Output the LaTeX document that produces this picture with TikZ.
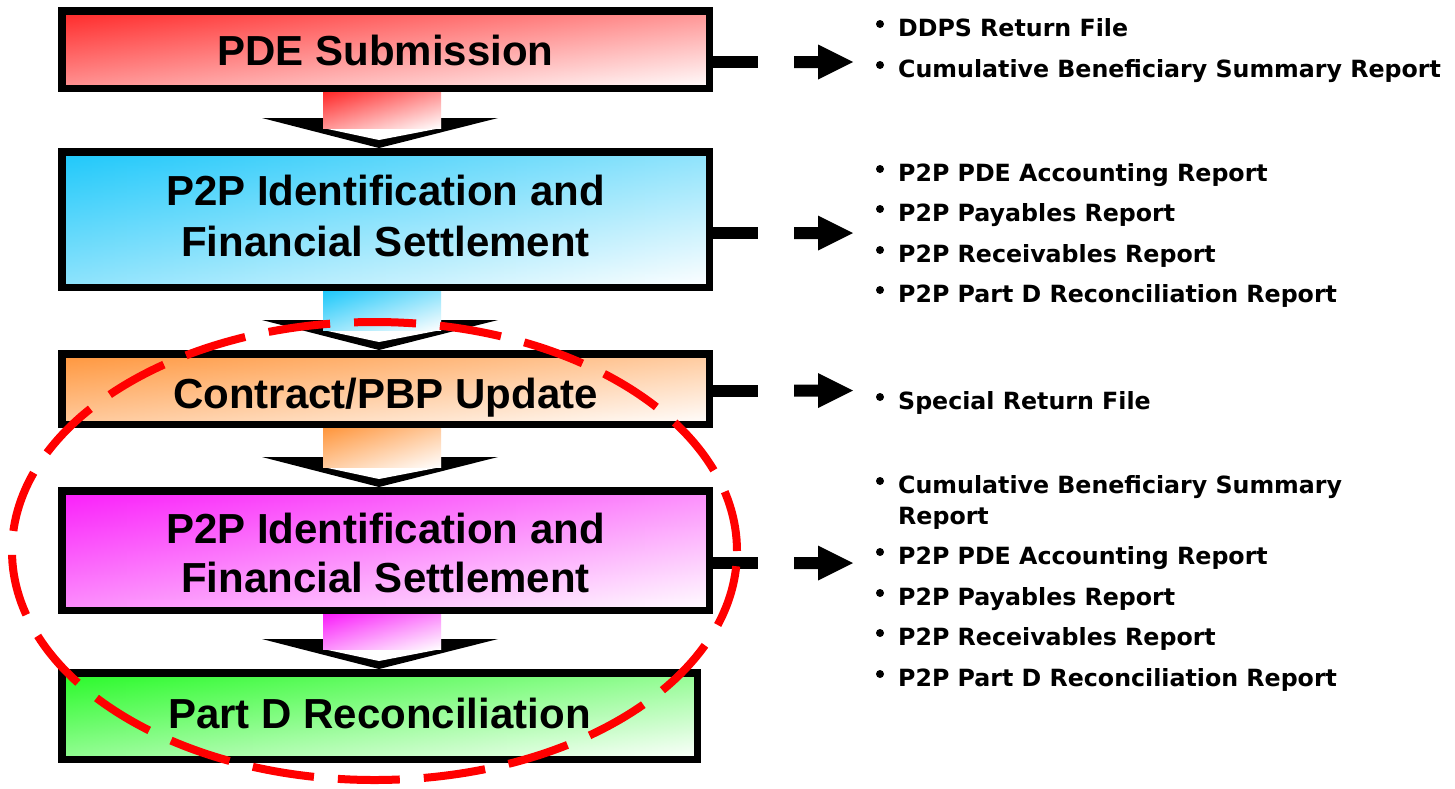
\documentclass[tikz,border=0pt]{standalone}
\usepackage{fontspec}
\setmainfont{Liberation Sans}
\newfontfamily\listfont{DejaVu Sans}
\usetikzlibrary{calc}
\definecolor{cR}{RGB}{255,40,40}
\definecolor{cB}{RGB}{30,200,250}
\definecolor{cO}{RGB}{255,150,60}
\definecolor{cM}{RGB}{250,30,250}
\definecolor{cG}{RGB}{40,250,40}
\tikzset{
  x=1pt, y=1pt,
  grad/.style={path picture={
      \shade[left color=#1, right color=white]
        (path picture bounding box.south west) rectangle (path picture bounding box.north east);
      \shade[top color=#1, bottom color=white, opacity=0.5]
        (path picture bounding box.south west) rectangle (path picture bounding box.north east);
  }},
  stagebox/.style={draw=black, line width=7.5pt, inner sep=0pt, grad=#1},
  stagetext/.style={anchor=base, inner sep=0pt, font=\fontsize{42}{50}\selectfont\bfseries},
  itemtext/.style={anchor=base west, inner sep=0pt, font=\listfont\fontsize{23.7}{31}\selectfont\bfseries},
  feed/.style={line width=12pt},
  ring/.style={draw=red, line width=8pt, dash pattern=on 62pt off 24pt, dash phase=1pt},
}
\newcommand{\chev}[3]{%
  \fill[black] let \p2=(#2.north) in
    (262pt,\y2+30pt) -- (498pt,\y2+30pt) -- (379pt,\y2) -- cycle;
  \fill[white] let \p2=(#2.north) in
    (323pt,\y2+20pt) -- (441pt,\y2+20pt) -- (379pt,\y2+8pt) -- cycle;
  \path[grad=#3] let \p1=(#1.south), \p2=(#2.north) in (323pt,\y1) rectangle (441pt,\y2+20pt);
}
\newcommand{\blockarrow}[1]{%
  \fill ([xshift=36pt]#1) ++(0,6) -- ++(24,0) -- ++(0,11.5) -- ++(35,-17.5)
    -- ++(-35,-17.5) -- ++(0,11.5) -- ++(-24,0) -- cycle;
}
\begin{document}
\begin{tikzpicture}
\useasboundingbox (0,0) rectangle (1455,-788);
\fill[white] (0,0) rectangle (1455,-788);

% stage boxes
\node[stagebox=cR, minimum width=647.5pt, minimum height=77.5pt] (b1) at (385.5,-49.5) {};
\node[stagebox=cB, minimum width=647.5pt, minimum height=135.5pt] (b2) at (385.5,-219.5) {};
\node[stagebox=cO, minimum width=647.5pt, minimum height=70.5pt] (b3) at (385.5,-389) {};
\node[stagebox=cM, minimum width=647.5pt, minimum height=119.5pt] (b4) at (385.5,-550.5) {};
\node[stagebox=cG, minimum width=635.5pt, minimum height=86.5pt] (b5) at (379.5,-716) {};

\node[stagetext] (t1) at (385.5,-65) {PDE Submission};
\node[stagetext] (t2a) at (385.5,-205) {P2P Identification and};
\node[stagetext] (t2b) at (385.5,-256) {Financial Settlement};
\node[stagetext] (t3) at (385.5,-408) {Contract/PBP Update};
\node[stagetext] (t4a) at (385.5,-543) {P2P Identification and};
\node[stagetext] (t4b) at (385.5,-592) {Financial Settlement};
\node[stagetext] (t5) at (379.5,-728) {Part D Reconciliation};

% down arrows
\chev{b1}{b2}{cR}
\chev{b2}{b3}{cB}
\chev{b3}{b4}{cO}
\chev{b4}{b5}{cM}

% right arrows
\coordinate (a1) at (758,-62);
\coordinate (a2) at (758,-233);
\coordinate (a3) at (758,-390.5);
\coordinate (a4) at (758,-563);
\foreach \b/\a in {b1/a1,b2/a2,b3/a3,b4/a4}{
  \draw[feed] (\b.east |- \a) -- (\a);
  \blockarrow{\a}
}

% output lists
\foreach \yb in {36.5,77.5,181.5,221.5,262.5,302.5,409.5,493.5,564.5,605.5,645.5,686.5}{
  \fill (880,-\yb+12.5) circle (4);
}
\node[itemtext] (l1a) at (898,-36.5) {DDPS Return File};
\node[itemtext] (l1b) at (898,-77.5) {Cumulative Beneficiary Summary Report};
\node[itemtext] (l2a) at (898,-181.5) {P2P PDE Accounting Report};
\node[itemtext] (l2b) at (898,-221.5) {P2P Payables Report};
\node[itemtext] (l2c) at (898,-262.5) {P2P Receivables Report};
\node[itemtext] (l2d) at (898,-302.5) {P2P Part D Reconciliation Report};
\node[itemtext] (l3a) at (898,-409.5) {Special Return File};
\node[itemtext] (l4a) at (898,-493.5) {Cumulative Beneficiary Summary};
\node[itemtext] (l4a2) at (898,-524.5) {Report};
\node[itemtext] (l4b) at (898,-564.5) {P2P PDE Accounting Report};
\node[itemtext] (l4c) at (898,-605.5) {P2P Payables Report};
\node[itemtext] (l4d) at (898,-645.5) {P2P Receivables Report};
\node[itemtext] (l4e) at (898,-686.5) {P2P Part D Reconciliation Report};

% highlight ring
\draw[ring] (374.5,-551) ellipse [x radius=362.5, y radius=229];
\end{tikzpicture}
\end{document}
